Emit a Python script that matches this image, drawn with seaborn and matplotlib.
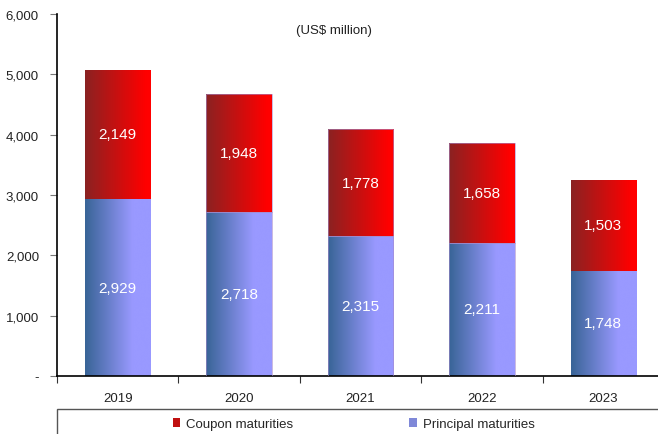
import numpy as np
import pandas as pd
import matplotlib
matplotlib.use("Agg")
import matplotlib.pyplot as plt
from matplotlib.colors import LinearSegmentedColormap
from matplotlib.patches import Patch, Rectangle
import seaborn as sns

# Maturity profile, US$ million
years = ["2019", "2020", "2021", "2022", "2023"]
principal = [2929, 2718, 2315, 2211, 1748]
coupon = [2149, 1948, 1778, 1658, 1503]
y_ticks = [0, 1000, 2000, 3000, 4000, 5000, 6000]
unit_note = "(US$ million)"
series_names = ["Coupon maturities", "Principal maturities"]

df = pd.DataFrame({"year": years, "principal": principal, "coupon": coupon})
df["total"] = df["principal"] + df["coupon"]

sns.set_theme(style="white")
plt.rcParams["font.family"] = ["Liberation Sans", "DejaVu Sans"]

fig = plt.figure(figsize=(6.58, 4.35), dpi=100)
ax = fig.add_axes([57 / 658, 58 / 435, 607 / 658, 362 / 435])

bar_w = 0.54
sns.barplot(data=df, x="year", y="total", color="#cc1010", width=bar_w,
            ax=ax, saturation=1)
sns.barplot(data=df, x="year", y="principal", color="#7f88d8", width=bar_w,
            ax=ax, saturation=1)

coupon_bars = ax.containers[0]
principal_bars = ax.containers[1]

# Coupon segment sits on top of principal
for bar, p, c in zip(coupon_bars, df["principal"], df["coupon"]):
    bar.set_y(p)
    bar.set_height(c)

red_cmap = LinearSegmentedColormap.from_list(
    "coupon", [(0.0, "#8a2222"), (0.92, "#ff0000"), (1.0, "#ff0000")])
blue_cmap = LinearSegmentedColormap.from_list(
    "principal", [(0.0, "#386496"), (0.72, "#9999ff"), (1.0, "#9999ff")])
grad = np.linspace(0, 1, 256).reshape(1, -1)

edge_col = (0.65, 0.55, 0.80, 0.6)
for bars, cmap in ((coupon_bars, red_cmap), (principal_bars, blue_cmap)):
    for i, bar in enumerate(bars):
        x0, y0 = bar.get_x(), bar.get_y()
        w, h = bar.get_width(), bar.get_height()
        img = ax.imshow(grad, cmap=cmap, aspect="auto", interpolation="bicubic",
                        extent=[x0, x0 + w, y0, y0 + h], zorder=2)
        img.set_clip_path(bar)
        bar.set_facecolor("none")
        if 1 <= i <= 3:
            bar.set_edgecolor(edge_col)
            bar.set_linewidth(0.7)
        else:
            bar.set_linewidth(0)
        bar.set_zorder(3)

ax.bar_label(coupon_bars, labels=[f"{v:,}" for v in coupon],
             label_type="center", color="white", fontsize=11, zorder=4)
ax.bar_label(principal_bars, labels=[f"{v:,}" for v in principal],
             label_type="center", color="white", fontsize=11, zorder=4)

ax.set_xlim(-0.5, 4.5)
ax.set_ylim(0, 6000)
ax.set_yticks(y_ticks)
ax.set_yticklabels(["-" if v == 0 else f"{v:,}" for v in y_ticks])
ax.set_xlabel("")
ax.set_ylabel("")

ax.tick_params(axis="y", which="major", direction="out", length=5, width=0.8,
               color="#777777", labelsize=9.5, labelcolor="#222222", pad=8,
               left=True)
ax.set_xticks(np.arange(len(years)))
ax.set_xticks(np.arange(len(years) + 1) - 0.5, minor=True)
ax.tick_params(axis="x", which="major", length=0, labelsize=9.5,
               labelcolor="#222222", pad=11.5)
ax.tick_params(axis="x", which="minor", direction="out", length=5, width=0.8,
               color="#333333", bottom=True)

for side in ("top", "right"):
    ax.spines[side].set_visible(False)
for side in ("left", "bottom"):
    ax.spines[side].set_color("black")
    ax.spines[side].set_linewidth(1.2)

ax.text(0.456, 0.955, unit_note, transform=ax.transAxes, ha="center",
        va="center", fontsize=9.5, color="#222222")

# Legend box running off the lower and right edges
fig.patches.append(Rectangle((57 / 658, -0.05), 0.95, 0.05 + 25 / 435,
                             transform=fig.transFigure, fill=False,
                             edgecolor="#555555", linewidth=1.0))
handles = [Patch(facecolor="#c01010", edgecolor="none"),
           Patch(facecolor="#7f88d8", edgecolor="none")]
fig.legend(handles, series_names, loc="center left",
           bbox_to_anchor=(173 / 658, 10 / 435), ncol=2, frameon=False,
           fontsize=9.5, handlelength=0.55, handleheight=0.7,
           handletextpad=0.45, columnspacing=8.8, borderaxespad=0,
           borderpad=0)

fig.savefig("out.png", dpi=100)
